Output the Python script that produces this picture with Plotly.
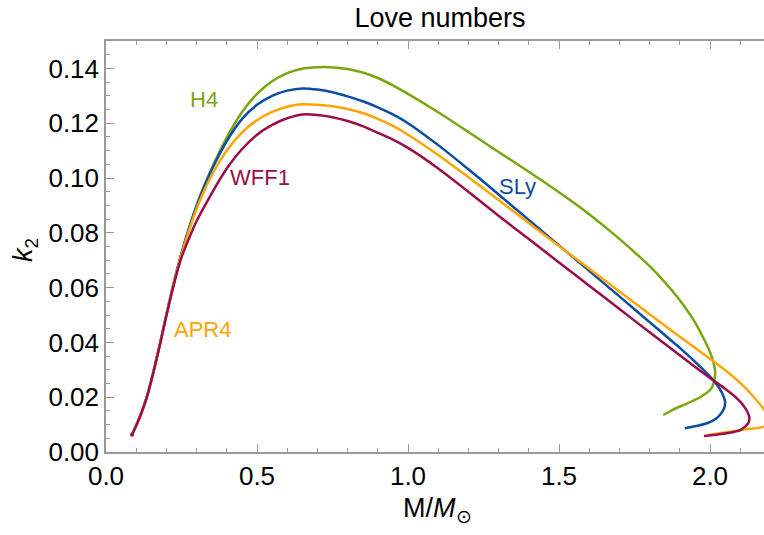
import plotly.graph_objects as go

# ---- data ----
h4_M = [0.086, 0.10, 0.115, 0.135, 0.157, 0.179, 0.197, 0.214, 0.231, 0.25, 0.275, 0.30, 0.325, 0.35, 0.40, 0.45, 0.50, 0.55, 0.60, 0.65, 0.70, 0.725,
        0.80, 0.85, 0.90, 0.95, 1.00, 1.10, 1.20, 1.30, 1.40, 1.50, 1.60, 1.70, 1.80, 1.85, 1.90, 1.95, 1.983, 2.000, 2.011, 2.017,
        2.013, 2.003, 1.967, 1.92, 1.88, 1.845]
h4_k = [0.0064, 0.0097, 0.0137, 0.0200, 0.0292, 0.0396, 0.0486, 0.0569, 0.0647, 0.0725, 0.0818, 0.0900, 0.0972, 0.1035, 0.1148, 0.1240, 0.1307, 0.1353, 0.1383, 0.1399, 0.1404, 0.1405,
        0.1398, 0.1385, 0.1365, 0.1338, 0.1307, 0.1240, 0.1168, 0.1095, 0.1023, 0.0948, 0.0868, 0.0778, 0.0678, 0.0620, 0.0554, 0.0474, 0.0405, 0.0365, 0.0328, 0.0292,
        0.0255, 0.0230, 0.0200, 0.0175, 0.0156, 0.0135]

sly_M = [0.086, 0.10, 0.115, 0.135, 0.157, 0.179, 0.197, 0.214, 0.231, 0.25, 0.275, 0.30, 0.325, 0.35, 0.40, 0.45, 0.50, 0.55, 0.60, 0.65, 0.70, 0.75,
         0.80, 0.85, 0.90, 0.95, 1.00, 1.10, 1.20, 1.30, 1.40, 1.50, 1.60, 1.70, 1.75, 1.80, 1.85, 1.90, 1.95, 1.99, 2.02, 2.04,
         2.05, 2.045, 2.023, 1.99, 1.95, 1.917]
sly_k = [0.0064, 0.0097, 0.0137, 0.0200, 0.0292, 0.0396, 0.0486, 0.0569, 0.0647, 0.0725, 0.0817, 0.0898, 0.0968, 0.1030, 0.1135, 0.1215, 0.1267, 0.1300, 0.1319, 0.1327, 0.1323, 0.1313,
         0.1298, 0.1280, 0.1258, 0.1232, 0.1200, 0.1120, 0.1032, 0.0940, 0.0847, 0.0754, 0.0661, 0.0568, 0.0521, 0.0474, 0.0427, 0.0380, 0.0330, 0.0287, 0.0250, 0.0215,
         0.0182, 0.0155, 0.0124, 0.0105, 0.0094, 0.0087]

apr4_M = [0.086, 0.10, 0.115, 0.135, 0.157, 0.179, 0.197, 0.214, 0.231, 0.25, 0.275, 0.30, 0.325, 0.35, 0.40, 0.45, 0.50, 0.55, 0.60, 0.65, 0.70, 0.75,
          0.80, 0.85, 0.90, 0.95, 1.00, 1.10, 1.20, 1.30, 1.40, 1.50, 1.60, 1.70, 1.80, 1.90, 2.00, 2.06, 2.10, 2.14, 2.17, 2.19,
          2.197, 2.19, 2.17, 2.12, 2.06, 1.993]
apr4_k = [0.0064, 0.0097, 0.0137, 0.0200, 0.0292, 0.0396, 0.0486, 0.0568, 0.0645, 0.0720, 0.0810, 0.0888, 0.0953, 0.1010, 0.1100, 0.1166, 0.1211, 0.1241, 0.1260, 0.1269, 0.1267, 0.1262,
          0.1252, 0.1237, 0.1216, 0.1190, 0.1158, 0.1084, 0.1003, 0.0920, 0.0836, 0.0752, 0.0669, 0.0586, 0.0503, 0.0421, 0.0340, 0.0290, 0.0252, 0.0207, 0.0168, 0.0136,
          0.0117, 0.0100, 0.0090, 0.0083, 0.0073, 0.0062]

wff1_M = [0.086, 0.10, 0.115, 0.135, 0.157, 0.179, 0.197, 0.214, 0.231, 0.25, 0.275, 0.30, 0.338, 0.377, 0.40, 0.45, 0.50, 0.55, 0.60, 0.65,
          0.70, 0.75, 0.80, 0.85, 0.90, 0.95, 1.00, 1.10, 1.20, 1.30, 1.40, 1.50, 1.60, 1.70, 1.80, 1.90, 2.00, 2.05, 2.09, 2.115,
          2.13, 2.127, 2.10, 2.06, 2.02, 1.98]
wff1_k = [0.0063, 0.0096, 0.0136, 0.0199, 0.0291, 0.0394, 0.0483, 0.0563, 0.0638, 0.0710, 0.0780, 0.0843, 0.0920, 0.0995, 0.1035, 0.1105, 0.1158, 0.1194, 0.1218, 0.1232,
          0.1230, 0.1222, 0.1208, 0.1189, 0.1165, 0.1140, 0.1110, 0.1035, 0.0950, 0.0862, 0.0777, 0.0692, 0.0607, 0.0522, 0.0437, 0.0353, 0.0270, 0.0231, 0.0195, 0.0163,
          0.0128, 0.0105, 0.0080, 0.0069, 0.0063, 0.0058]

names = ["H4", "SLy", "APR4", "WFF1"]
colors = ["#78A80E", "#0B4DA2", "#FFA500", "#9B0D4B"]
label_M = [0.324, 1.364, 0.318, 0.51]
label_k = [0.1287, 0.097, 0.0448, 0.1003]

x_ticks = [0.0, 0.5, 1.0, 1.5, 2.0]
y_ticks = [0.00, 0.02, 0.04, 0.06, 0.08, 0.10, 0.12, 0.14]

FONT = "Liberation Sans, Arial, sans-serif"

fig = go.Figure()
series = [(h4_M, h4_k), (sly_M, sly_k), (apr4_M, apr4_k), (wff1_M, wff1_k)]
for (m, k), name, col in zip(series, names, colors):
    fig.add_trace(go.Scatter(x=m, y=k, mode="lines", name=name,
                             line=dict(color=col, width=2.5, shape="spline", smoothing=0.6),
                             showlegend=False))

# small start dot
fig.add_trace(go.Scatter(x=[wff1_M[0]], y=[wff1_k[0]], mode="markers",
                         marker=dict(color=colors[3], size=4), showlegend=False))

for name, col, lm, lk in zip(names, colors, label_M, label_k):
    fig.add_annotation(x=lm, y=lk, text=name, showarrow=False,
                       font=dict(family=FONT, size=22, color=col),
                       xanchor="center", yanchor="middle")

# axis titles
fig.add_annotation(xref="paper", yref="paper", x=(437 - 106) / 658, y=(452 - 491) / 411,
                   text="M/<i>M</i><sub>⊙</sub>", showarrow=False, xanchor="center", yanchor="top",
                   font=dict(family=FONT, size=27, color="black"))
fig.add_annotation(xref="paper", yref="paper", x=(25 - 106) / 658, y=(452 - 250) / 411,
                   text="<i>k</i><sub>2</sub>", showarrow=False, textangle=-90,
                   xanchor="center", yanchor="middle",
                   font=dict(family=FONT, size=27, color="black"))

axis_col = "#9a9a9a"
fig.update_layout(
    width=764, height=535,
    margin=dict(l=106, r=0, t=41, b=83),
    paper_bgcolor="white", plot_bgcolor="white",
    font=dict(family=FONT, size=26, color="black"),
    title=dict(text="Love numbers", x=440/764, xanchor="center",
               y=1 - 18/535, yanchor="middle", yref="container",
               font=dict(family=FONT, size=27, color="black")),
)
fig.update_xaxes(
    range=[0, 658/302], tickvals=x_ticks, ticktext=[f"{v:.1f}" for v in x_ticks],
    ticks="inside", ticklen=8, tickwidth=1, tickcolor=axis_col,
    showline=True, linecolor=axis_col, linewidth=1.5, mirror="ticks",
    showgrid=False, zeroline=False,
    minor=dict(dtick=0.1, ticks="inside", ticklen=4, tickcolor=axis_col, showgrid=False),
    tickfont=dict(family=FONT, size=26, color="black"),
)
fig.update_yaxes(
    range=[0, 0.15], tickvals=y_ticks, ticktext=[f"{v:.2f}" for v in y_ticks],
    ticks="inside", ticklen=8, tickwidth=1, tickcolor=axis_col,
    showline=True, linecolor=axis_col, linewidth=1.5, mirror=False,
    showgrid=False, zeroline=False,
    minor=dict(dtick=0.005, ticks="inside", ticklen=4, tickcolor=axis_col, showgrid=False),
    tickfont=dict(family=FONT, size=26, color="black"),
)

fig.write_html("out.html")
